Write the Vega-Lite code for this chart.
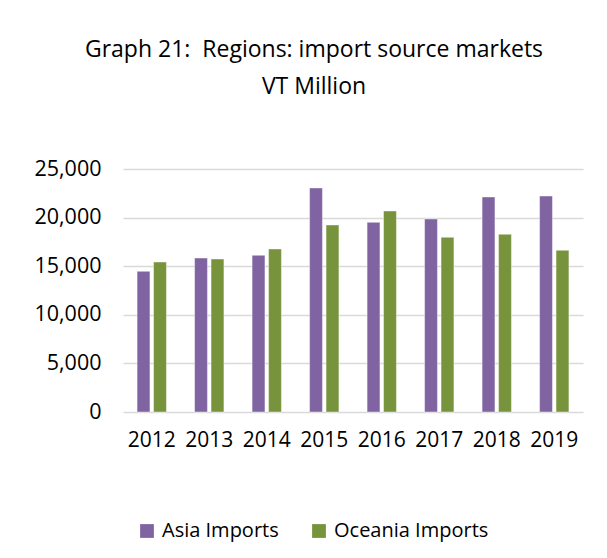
{
  "$schema": "https://vega.github.io/schema/vega-lite/v6.json",
  "width": 460,
  "height": 243,
  "autosize": {"type": "none"},
  "padding": {"left": 123, "top": 169, "right": 24, "bottom": 146},
  "background": "white",
  "title": {
    "text": ["Graph 21:\u00a0 Regions: import source markets", "VT Million"],
    "font": "Open Sans",
    "fontSize": 23,
    "fontWeight": "normal",
    "color": "#000000",
    "anchor": "middle",
    "frame": "group",
    "dx": -39,
    "offset": 59,
    "lineHeight": 37
  },
  "data": {
    "values": [
      {"year": "2012", "series": "Asia Imports", "value": 14470},
      {"year": "2012", "series": "Oceania Imports", "value": 15430},
      {"year": "2013", "series": "Asia Imports", "value": 15840},
      {"year": "2013", "series": "Oceania Imports", "value": 15740},
      {"year": "2014", "series": "Asia Imports", "value": 16120},
      {"year": "2014", "series": "Oceania Imports", "value": 16770},
      {"year": "2015", "series": "Asia Imports", "value": 23050},
      {"year": "2015", "series": "Oceania Imports", "value": 19240},
      {"year": "2016", "series": "Asia Imports", "value": 19510},
      {"year": "2016", "series": "Oceania Imports", "value": 20680},
      {"year": "2017", "series": "Asia Imports", "value": 19860},
      {"year": "2017", "series": "Oceania Imports", "value": 17970},
      {"year": "2018", "series": "Asia Imports", "value": 22120},
      {"year": "2018", "series": "Oceania Imports", "value": 18280},
      {"year": "2019", "series": "Asia Imports", "value": 22220},
      {"year": "2019", "series": "Oceania Imports", "value": 16630}
    ]
  },
  "mark": {"type": "bar", "stroke": "white", "strokeWidth": 0.7, "strokeOpacity": 0.6},
  "encoding": {
    "x": {
      "field": "year",
      "type": "nominal",
      "scale": {"paddingInner": 0.49, "paddingOuter": 0.245},
      "axis": {
        "title": null,
        "labelAngle": 0,
        "labelFont": "Open Sans",
        "labelFontSize": 21,
        "labelColor": "#000000",
        "labelPadding": 17,
        "ticks": false,
        "domain": false
      }
    },
    "xOffset": {
      "field": "series",
      "type": "nominal",
      "scale": {"paddingInner": 0.22, "paddingOuter": 0}
    },
    "y": {
      "field": "value",
      "type": "quantitative",
      "scale": {"domain": [0, 25000], "nice": false},
      "axis": {
        "title": null,
        "values": [0, 5000, 10000, 15000, 20000, 25000],
        "format": ",d",
        "labelFont": "Open Sans",
        "labelFontSize": 21.5,
        "labelColor": "#000000",
        "labelPadding": 22,
        "ticks": false,
        "domain": false,
        "grid": true,
        "gridColor": "#D9D9D9",
        "gridWidth": 1.3
      }
    },
    "color": {
      "field": "series",
      "type": "nominal",
      "scale": {"domain": ["Asia Imports", "Oceania Imports"], "range": ["#8064A2", "#77933C"]},
      "legend": {
        "title": null,
        "orient": "none",
        "direction": "horizontal",
        "legendX": 14,
        "legendY": 352,
        "symbolType": "square",
        "symbolSize": 190,
        "symbolStrokeWidth": 0,
        "labelFont": "Open Sans",
        "labelFontSize": 20,
        "labelColor": "#000000",
        "labelOffset": 5,
        "columnPadding": 30
      }
    }
  },
  "config": {"view": {"stroke": null}}
}
